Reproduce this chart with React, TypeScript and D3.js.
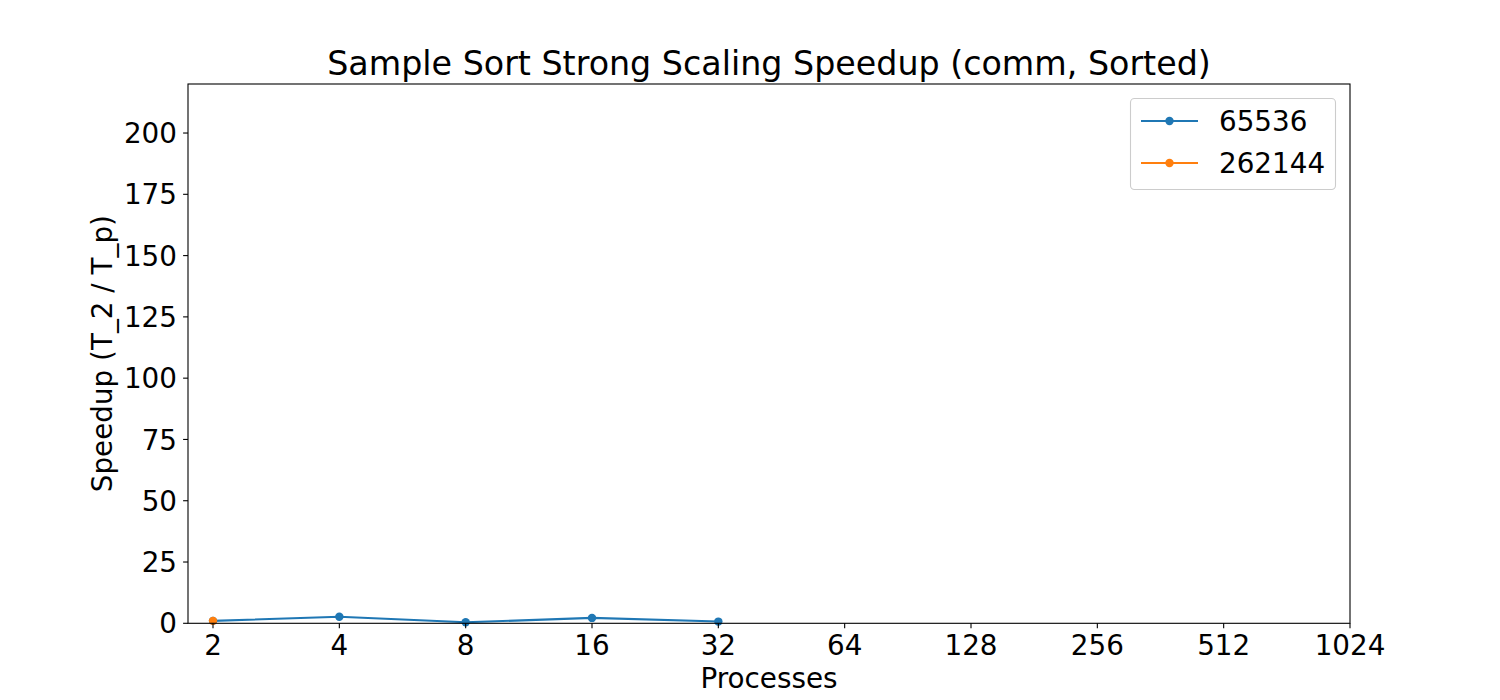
import React from "react";
import * as d3 from "d3";

const processes = [2, 4, 8, 16, 32, 64, 128, 256, 512, 1024];
const yTicks = [0, 25, 50, 75, 100, 125, 150, 175, 200];
const seriesNames = ["65536", "262144"];
const seriesColors = ["#1f77b4", "#ff7f0e"];
const procs65536 = [2, 4, 8, 16, 32];
const speedup65536 = [1.0, 2.7, 0.4, 2.2, 0.7];
const procs262144 = [2];
const speedup262144 = [1.0];

const W = 1500;
const H = 700;
const left = 188;
const right = 1350;
const top = 84;
const bottom = 623.3;
const FONT = "DejaVu Sans, sans-serif";

export default function App() {
  const octave = (right - 213) / 9;
  const x = d3
    .scaleLog()
    .base(2)
    .domain([Math.pow(2, 1 - (213 - left) / octave), 1024])
    .range([left, right]);
  const y = d3.scaleLinear().domain([0, 220]).range([bottom, top]);

  const series = [
    { name: seriesNames[0], color: seriesColors[0], xs: procs65536, ys: speedup65536 },
    { name: seriesNames[1], color: seriesColors[1], xs: procs262144, ys: speedup262144 },
  ];
  const line = d3
    .line<[number, number]>()
    .x((d) => x(d[0]))
    .y((d) => y(d[1]));

  return (
    <svg width={W} height={H} style={{ display: "block", position: "absolute", left: 0, top: 0 }}>
      <rect x={0} y={0} width={W} height={H} fill="#fff" />
      <text x={(left + right) / 2} y={75} textAnchor="middle" fontFamily={FONT} fontSize={33.3} fill="#000">
        Sample Sort Strong Scaling Speedup (comm, Sorted)
      </text>
      {series.map((s) => {
        const pts = s.xs.map((v, i) => [v, s.ys[i]] as [number, number]);
        return (
          <g key={s.name}>
            <path d={line(pts) || ""} fill="none" stroke={s.color} strokeWidth={2.08} />
            {pts.map((p, i) => (
              <circle key={i} cx={x(p[0])} cy={y(p[1])} r={4.2} fill={s.color} />
            ))}
          </g>
        );
      })}
      <rect x={left} y={top} width={right - left} height={bottom - top} fill="none" stroke="#000" strokeWidth={1.1} />
      {processes.map((p) => (
        <g key={p}>
          <line x1={x(p)} x2={x(p)} y1={bottom} y2={bottom + 4.9} stroke="#000" strokeWidth={1.1} />
          <text x={x(p)} y={655} textAnchor="middle" fontFamily={FONT} fontSize={27.8} fill="#000">
            {p}
          </text>
        </g>
      ))}
      {yTicks.map((t) => (
        <g key={t}>
          <line x1={left - 4.9} x2={left} y1={y(t)} y2={y(t)} stroke="#000" strokeWidth={1.1} />
          <text x={177} y={y(t) + 10.1} textAnchor="end" fontFamily={FONT} fontSize={27.8} fill="#000">
            {t}
          </text>
        </g>
      ))}
      <text x={(left + right) / 2} y={688} textAnchor="middle" fontFamily={FONT} fontSize={27.8} fill="#000">
        Processes
      </text>
      <text
        transform={`translate(112, ${(top + bottom) / 2}) rotate(-90)`}
        textAnchor="middle"
        fontFamily={FONT}
        fontSize={27.8}
        fill="#000"
      >
        Speedup (T_2 / T_p)
      </text>
      <g>
        <rect x={1130.5} y={98.5} width={205} height={91} rx={4} fill="#fff" fillOpacity={0.8} stroke="#cccccc" strokeWidth={1.1} />
        {series.map((s, i) => {
          const cy = 121 + i * 42;
          return (
            <g key={s.name}>
              <line x1={1141} x2={1198} y1={cy} y2={cy} stroke={s.color} strokeWidth={2.08} />
              <circle cx={1169.5} cy={cy} r={4.2} fill={s.color} />
              <text x={1219} y={cy + 10.1} fontFamily={FONT} fontSize={27.8} fill="#000">
                {s.name}
              </text>
            </g>
          );
        })}
      </g>
    </svg>
  );
}
